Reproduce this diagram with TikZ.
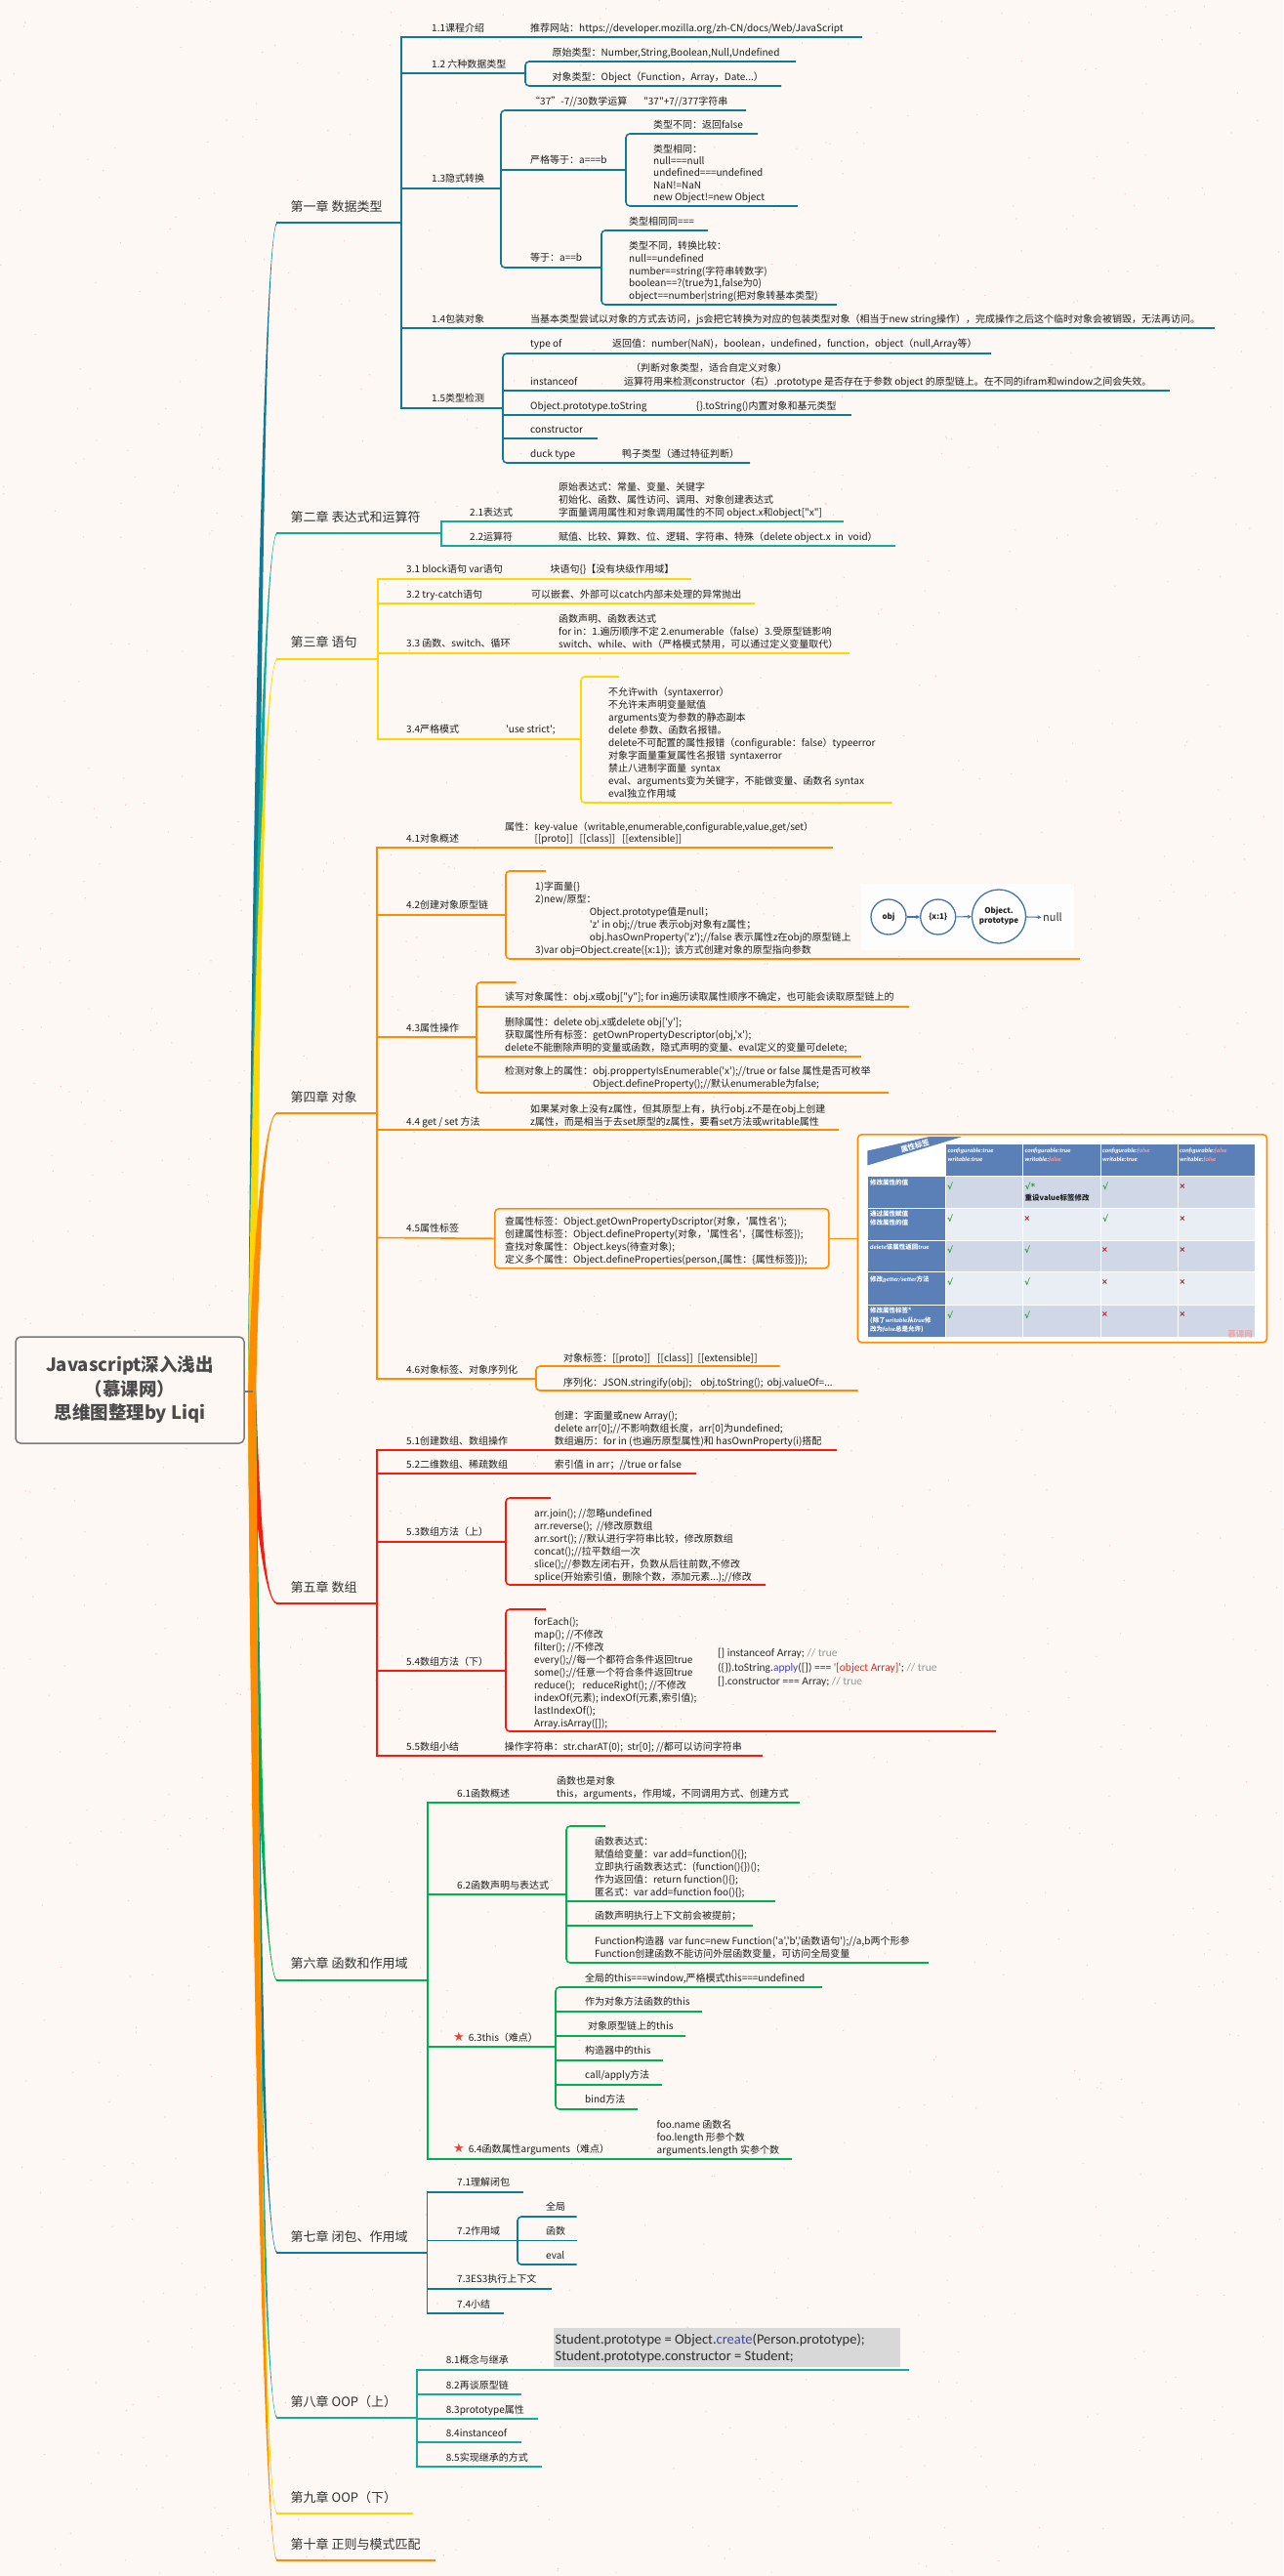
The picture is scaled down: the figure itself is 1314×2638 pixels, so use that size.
\documentclass[tikz,border=0pt]{standalone}
\usepackage{fontspec}
\setmainfont{Noto Sans CJK SC}[Ligatures=TeXOff]
\newfontfamily\calfont{Carlito}[Ligatures=TeXOff]
\newfontfamily\dvfont{DejaVu Sans}[Ligatures=TeXOff]
\usetikzlibrary{arrows.meta}

\definecolor{bg}{RGB}{253,248,243}
\definecolor{speck}{RGB}{243,210,198}
\definecolor{ink}{RGB}{30,30,30}
\definecolor{ink2}{RGB}{50,50,50}
\definecolor{cA}{RGB}{16,122,150}
\definecolor{cB}{RGB}{20,172,152}
\definecolor{cC}{RGB}{255,214,0}
\definecolor{cD}{RGB}{255,140,0}
\definecolor{cE}{RGB}{250,25,10}
\definecolor{cF}{RGB}{0,176,80}
\definecolor{rootgray}{RGB}{122,122,122}
\definecolor{roottext}{RGB}{75,75,75}
\definecolor{circblue}{RGB}{68,114,170}
\definecolor{tblue}{RGB}{91,128,184}
\definecolor{rowA}{RGB}{208,216,232}
\definecolor{rowB}{RGB}{233,237,244}
\definecolor{fpink}{RGB}{240,160,165}
\definecolor{ckgreen}{RGB}{40,160,50}
\definecolor{xred}{RGB}{160,30,30}
\definecolor{wmpink}{RGB}{236,170,170}
\definecolor{codegray}{RGB}{216,216,216}
\definecolor{codeink}{RGB}{45,45,45}
\definecolor{kwblue}{RGB}{70,70,170}
\definecolor{strred}{RGB}{200,50,40}
\definecolor{cmtgray}{RGB}{150,150,150}
\definecolor{starred}{RGB}{232,65,59}

\tikzset{
  lbl/.style={anchor=south west, inner sep=0pt, text depth=0pt, align=left,
    font=\fontsize{10}{13}\selectfont, text=ink},
  chap/.style={anchor=south west, inner sep=0pt, text depth=0pt,
    font=\fontsize{13}{15}\selectfont, text=ink2},
  br/.style={line width=1.6pt},
  sb/.style={line width=1.6pt, rounded corners=4pt},
  code/.style={anchor=south west, inner sep=0pt, text depth=0pt, align=left, text=codeink},
  circ/.style={circle, draw=circblue, line width=1.3pt, inner sep=0pt, fill=white,
    font=\bfseries\fontsize{8}{10}\selectfont, text=ink, align=center},
  darr/.style={draw=circblue, line width=1.1pt, -{Stealth[length=4pt,width=4pt]}},
  th/.style={anchor=south west, inner sep=0pt, text depth=0pt, align=left, text=white,
    font=\calfont\bfseries\itshape\fontsize{6.5}{9}\selectfont},
  tl/.style={anchor=south west, inner sep=0pt, text depth=0pt, align=left, text=white,
    font=\bfseries\fontsize{6.5}{9.2}\selectfont},
  ck/.style={inner sep=0pt, text=ckgreen, font=\dvfont\bfseries\fontsize{9}{9}\selectfont},
  cx/.style={inner sep=0pt, text=xred, font=\dvfont\bfseries\fontsize{8}{8}\selectfont},
  starmark/.style={inner sep=0pt, text=starred, font=\dvfont\fontsize{13}{13}\selectfont},
}

% horizontal branch line: colour, x1, x2, y
\newcommand\ul[4]{\draw[br,#1] (#2,#4) -- (#3,#4);}
% rounded sub-bar: colour, x, top y, bottom y, top line end, bottom line end
\newcommand\sbar[6]{\draw[sb,#1] (#5,#3) -- (#2,#3) -- (#2,#4) -- (#6,#4);}
% tapered trunk from the root to a chapter: colour, chapter y, +1 above / -1 below
\newcommand\trunk[3]{%
  \fill[#1] (254,1425) .. controls (258,{(1425+#2)/2}) and (270,{#2-(#3)*0.9})
    .. (284,{#2-(#3)*0.9}) -- (284,{#2+(#3)*0.9})
    .. controls (270,{#2+(#3)*0.9}) and (266,{(1425+#2)/2}) .. (262,1425) -- cycle;}

\begin{document}
\begin{tikzpicture}[x=1pt,y=-1pt]
\useasboundingbox (0,0) rectangle (1314,2638);
\fill[bg] (0,0) rectangle (1314,2638);

% paper texture
\pgfmathsetseed{4242}
\foreach \k in {1,...,1500}{\fill[speck] ({rnd*1314},{rnd*2638}) circle (0.75pt);}

% ---------------- trunks ----------------
\trunk{cA}{228}{1}
\trunk{cB}{546}{1}
\trunk{cC}{675}{1}
\trunk{cE}{1642}{-1}
\trunk{cF}{2028}{-1}
\trunk{cA}{2307}{-1}
\trunk{cB}{2476}{-1}
\trunk{cC}{2574}{-1}
\trunk{cD}{1140}{1}
\trunk{cD}{2622}{-1}

% ---------------- root ----------------
\draw[rootgray, line width=1.5pt] (250,1425) -- (259,1425);
\node[draw=rootgray, line width=1.5pt, rounded corners=5pt, fill=bg,
  minimum width=234pt, minimum height=109pt, inner sep=0pt, align=center,
  text=roottext, font=\bfseries\fontsize{18.5}{24.5}\selectfont] (root) at (133,1423.5)
  {Javascript深入浅出\\（慕课网）\\思维图整理by Liqi};

% ================= 第一章 =================
\node[chap] (c1) at (297.5,217) {第一章 数据类型};
\ul{cA}{283}{411}{228}
\draw[br,cA] (411,37.2) -- (411,418.8);

\node[lbl] (s11) at (442,32.8) {1.1课程介绍};
\node[lbl] (l11) at (543,32.8) {推荐网站：https://developer.mozilla.org/zh-CN/docs/Web/JavaScript};
\ul{cA}{411}{883}{38}

\node[lbl] (s12) at (442,69.8) {1.2 六种数据类型};
\ul{cA}{411}{538}{75}
\sbar{cA}{538}{63}{88}{815}{800}
\node[lbl] (l12a) at (565.5,57.8) {原始类型：Number,String,Boolean,Null,Undefined};
\node[lbl] (l12b) at (565.5,82.8) {对象类型：Object（Function，Array，Date...）};

\node[lbl] (s13) at (442,186.8) {1.3隐式转换};
\ul{cA}{411}{513}{193}
\sbar{cA}{513}{113}{274}{764}{616}
\node[lbl] (l13a) at (543,107.8) {“37”-7//30数学运算};
\node[lbl] (l13b) at (659,107.8) {"37"+7//377字符串};
\node[lbl] (l13c) at (543,167.8) {严格等于：a===b};
\ul{cA}{513}{641}{174}
\sbar{cA}{641}{137}{211}{776}{817}
\node[lbl] (l13c1) at (669,131.8) {类型不同：返回false};
\node[lbl,font=\fontsize{10}{12.2}\selectfont] (l13c2) at (669,205.5)
  {类型相同：\\null===null\\undefined===undefined\\NaN!=NaN\\new Object!=new Object};
\node[lbl] (l13d) at (543,267.8) {等于：a==b};
\sbar{cA}{616}{236}{312}{725}{857}
\node[lbl] (l13d1) at (644,230.8) {类型相同同===};
\node[lbl,font=\fontsize{10}{12.7}\selectfont] (l13d2) at (644,306.8)
  {类型不同，转换比较：\\null==undefined\\number==string(字符串转数字)\\boolean==?(true为1,false为0)\\object==number|string(把对象转基本类型)};

\node[lbl] (s14) at (442,330.8) {1.4包装对象};
\node[lbl] (l14) at (543,330.8) {当基本类型尝试以对象的方式去访问，js会把它转换为对应的包装类型对象（相当于new string操作），完成操作之后这个临时对象会被销毁，无法再访问。};
\ul{cA}{411}{1244}{336}

\node[lbl] (s15) at (442,411.8) {1.5类型检测};
\ul{cA}{411}{515}{418}
\sbar{cA}{515}{362}{474}{1015}{768}
\node[lbl] (l15a) at (543,355.8) {type of};
\node[lbl] (l15a2) at (627,355.8) {返回值：number(NaN)，boolean，undefined，function，object（null,Array等）};
\node[lbl] (l15b) at (543,394.8) {instanceof};
\node[lbl] (l15b2) at (646,380.8) {（判断对象类型，适合自定义对象）};
\node[lbl] (l15b3) at (639,394.8) {运算符用来检测constructor（右）.prototype 是否存在于参数 object 的原型链上。在不同的ifram和window之间会失效。};
\ul{cA}{515}{1198}{400}
\node[lbl] (l15c) at (543,419.8) {Object.prototype.toString};
\node[lbl] (l15c2) at (713,419.8) {\{\}.toString()内置对象和基元类型};
\ul{cA}{515}{872}{425}
\node[lbl] (l15d) at (543,443.8) {constructor};
\ul{cA}{515}{612}{449}
\node[lbl] (l15e) at (543,468.8) {duck type};
\node[lbl] (l15e2) at (637,468.8) {鸭子类型（通过特征判断）};

% ================= 第二章 =================
\node[chap] (c2) at (297.5,534.5) {第二章 表达式和运算符};
\ul{cB}{283}{452}{546}
\draw[br,cB] (452,533.2) -- (452,559.8);
\node[lbl] (s21) at (481,528.8) {2.1表达式};
\node[lbl] (l21) at (572,528.8) {原始表达式：常量、变量、关键字\\初始化、函数、属性访问、调用、对象创建表达式\\字面量调用属性和对象调用属性的不同 object.x和object["x"]};
\ul{cB}{452}{864}{534}
\node[lbl] (s22) at (481,553.8) {2.2运算符};
\node[lbl] (l22) at (572,553.8) {赋值、比较、算数、位、逻辑、字符串、特殊（delete object.x\ \ in\ \ void）};
\ul{cB}{452}{917}{559}

% ================= 第三章 =================
\node[chap] (c3) at (297.5,663) {第三章 语句};
\ul{cC}{283}{387}{675}
\draw[br,cC] (387,592.2) -- (387,757.8);
\node[lbl] (s31) at (416,586.8) {3.1 block语句 var语句};
\node[lbl] (l31) at (563.5,586.8) {块语句\{\}【没有块级作用域】};
\ul{cC}{387}{708}{593}
\node[lbl] (s32) at (416,612.8) {3.2 try-catch语句};
\node[lbl] (l32) at (544,612.8) {可以嵌套、外部可以catch内部未处理的异常抛出};
\ul{cC}{387}{772.5}{618}
\node[lbl] (s33) at (416,662.8) {3.3 函数、switch、循环};
\node[lbl] (l33) at (572,663.5) {函数声明、函数表达式\\for in：1.遍历顺序不定 2.enumerable（false）3.受原型链影响\\switch、while、with（严格模式禁用，可以通过定义变量取代）};
\ul{cC}{387}{869.5}{669}
\node[lbl] (s34) at (416,750.8) {3.4严格模式};
\node[lbl] (l34a) at (518,750.8) {'use strict';};
\ul{cC}{387}{595}{757}
\sbar{cC}{595}{693}{822}{634}{913.7}
\node[lbl] (l34b) at (623,816.3) {不允许with（syntaxerror）\\不允许未声明变量赋值\\arguments变为参数的静态副本\\delete 参数、函数名报错。\\delete不可配置的属性报错（configurable：false）typeerror\\对象字面量重复属性名报错\ \ syntaxerror\\禁止八进制字面量\ \ syntax\\eval、arguments变为关键字，不能做变量、函数名 syntax\\eval独立作用域};

% ================= 第四章 =================
\node[chap] (c4) at (297.5,1128.5) {第四章 对象};
\ul{cD}{283}{386}{1140}
\draw[br,cD] (386,867.2) -- (386,1412.8);

\node[lbl] (s41) at (416,862.8) {4.1对象概述};
\node[lbl] (l41a) at (517,850.8) {属性：key-value（writable,enumerable,configurable,value,get/set）};
\node[lbl] (l41b) at (547.5,862.8) {[[proto]]\hspace{7pt}[[class]]\hspace{7pt}[[extensible]]};
\ul{cD}{386}{853}{868}

\node[lbl] (s42) at (416,930.8) {4.2创建对象原型链};
\ul{cD}{386}{518}{937}
\sbar{cD}{518}{892}{982}{559}{1106}
\node[lbl] (l42) at (548,976.5) {1)字面量\{\}\\2)new/原型：\\\hspace*{55.6pt}Object.prototype值是null；\\\hspace*{55.6pt}'z' in obj;//true 表示obj对象有z属性；\\\hspace*{55.6pt}obj.hasOwnProperty('z');//false 表示属性z在obj的原型链上\\3)var obj=Object.create(\{x:1\});\ \ 该方式创建对象的原型指向参数};
\fill[white,opacity=0.85] (882,905) rectangle (1100,973);
\node[circ, minimum size=36pt] (cobj) at (910,939) {obj};
\node[circ, minimum size=36pt] (cx1) at (960.7,939) {\{x:1\}};
\node[circ, minimum size=55pt] (cop) at (1023,938.5) {Object.\\prototype};
\node[anchor=west, inner sep=0pt, text=ink2, font=\fontsize{11}{13}\selectfont] (cnull) at (1068,939.5) {null};
\draw[darr] (cobj) -- (cx1);
\draw[darr] (cx1) -- (cop);
\draw[darr, shorten >=1.5pt] (cop) -- (cnull);

\node[lbl] (s43) at (416,1056.8) {4.3属性操作};
\ul{cD}{386}{488}{1062}
\sbar{cD}{488}{1006}{1119}{528.6}{910}
\node[lbl] (l43a) at (517,1024.8) {读写对象属性：obj.x或obj["y"]; for in遍历读取属性顺序不确定，也可能会读取原型链上的};
\ul{cD}{488}{931}{1031}
\node[lbl] (l43b) at (517,1076.8) {删除属性：delete obj.x或delete obj['y'];\\获取属性所有标签：getOwnPropertyDescriptor(obj,'x');\\delete不能删除声明的变量或函数，隐式声明的变量、eval定义的变量可delete;};
\ul{cD}{488}{881.6}{1082}
\node[lbl] (l43c) at (517,1113.8) {检测对象上的属性：obj.proppertyIsEnumerable('x');//true or false 属性是否可枚举\\\hspace*{90pt}Object.defineProperty();//默认enumerable为false;};

\node[lbl] (s44) at (416,1152.8) {4.4 get / set 方法};
\node[lbl,font=\fontsize{10}{13.5}\selectfont] (l44) at (543,1152.8) {如果某对象上没有z属性，但其原型上有，执行obj.z不是在obj上创建\\z属性，而是相当于去set原型的z属性，要看set方法或writable属性};
\ul{cD}{386}{858.7}{1157}

\node[lbl] (s45) at (416,1261.8) {4.5属性标签};
\node[draw=cD, line width=1.6pt, rounded corners=4pt, minimum width=342pt, minimum height=61pt,
  anchor=north west, inner sep=0pt] (b45) at (506,1237) {};
\draw[br,cD] (386,1267.5) -- (b45.west);
\node[lbl] (l45) at (517,1293.8) {查属性标签：Object.getOwnPropertyDscriptor(对象，'属性名');\\创建属性标签：Object.defineProperty(对象，'属性名'，\{属性标签\});\\查找对象属性：Object.keys(待查对象);\\定义多个属性：Object.defineProperties(person,\{属性：\{属性标签\}\});};
\node[draw=cD, line width=1.6pt, rounded corners=4pt, fill=white, minimum width=419pt,
  minimum height=213pt, anchor=north west, inner sep=0pt] (tbox) at (877.7,1161) {};
\draw[br,cD] (b45.east) -- (tbox.west);

% property attribute table
\fill[tblue] (888.3,1193.5) -- (888.3,1178.5) -- (952,1164) -- (985.5,1164) -- cycle;
\node[rotate=17, inner sep=0pt, text=white, font=\bfseries\fontsize{7.5}{8}\selectfont] (tban) at (937,1173.5) {属性标签};
\fill[tblue] (968.7,1172) rectangle (1285,1204.8);
\fill[tblue] (889,1204.8) rectangle (968.7,1369);
\fill[rowA] (968.7,1204.8) rectangle (1285,1237.7);
\fill[rowB] (968.7,1237.7) rectangle (1285,1270);
\fill[rowA] (968.7,1270) rectangle (1285,1302.7);
\fill[rowB] (968.7,1302.7) rectangle (1285,1336);
\fill[rowA] (968.7,1336) rectangle (1285,1369);
\foreach \yy in {1204.8,1237.7,1270,1302.7,1336} \draw[white,line width=0.9pt] (889,\yy) -- (1285,\yy);
\foreach \xx in {968.7,1047.7,1127,1206} \draw[white,line width=0.9pt] (\xx,1172) -- (\xx,1369);

\node[th] (h1) at (970.5,1189.5) {configurable:true\\writable:true};
\node[th] (h2) at (1049.5,1189.5) {configurable:true\\writable:{\color{fpink}false}};
\node[th] (h3) at (1129,1189.5) {configurable:{\color{fpink}false}\\writable:true};
\node[th] (h4) at (1208,1189.5) {configurable:{\color{fpink}false}\\writable:{\color{fpink}false}};

\node[tl] (r1) at (891,1213.2) {修改属性的值};
\node[tl] (r2) at (891,1254.5) {通过属性赋值\\修改属性的值};
\node[tl] (r3) at (891,1279.2) {{\calfont\itshape delete}该属性返回{\calfont\itshape true}};
\node[tl] (r4) at (891,1312.5) {修改{\calfont\itshape getter/setter}方法};
\node[tl] (r5) at (891,1363.5) {修改属性标签*\\(除了{\calfont\itshape writable}从{\calfont\itshape true}修\\改为{\calfont\itshape false}总是允许)};

\node[ck] (m11) at (973,1215) {√};
\node[ck] (m12) at (1055,1215) {√*};
\node[anchor=south west, inner sep=0pt, text depth=0pt, text=ink, font=\bfseries\fontsize{7.5}{9}\selectfont] (m12b) at (1049.5,1229.7) {重设value标签修改};
\node[ck] (m13) at (1132,1215) {√};
\node[cx] (m14) at (1211,1215) {×};
\node[ck] (m21) at (973,1247.7) {√};
\node[cx] (m22) at (1052,1247.7) {×};
\node[ck] (m23) at (1132,1247.7) {√};
\node[cx] (m24) at (1211,1247.7) {×};
\node[ck] (m31) at (973,1280) {√};
\node[ck] (m32) at (1052,1280) {√};
\node[cx] (m33) at (1131.5,1280) {×};
\node[cx] (m34) at (1211,1280) {×};
\node[ck] (m41) at (973,1313) {√};
\node[ck] (m42) at (1052,1313) {√};
\node[cx] (m43) at (1131.5,1313) {×};
\node[cx] (m44) at (1211,1313) {×};
\node[ck] (m51) at (973,1346.5) {√};
\node[ck] (m52) at (1052,1346.5) {√};
\node[cx] (m53) at (1131.5,1346.5) {×};
\node[cx] (m54) at (1211,1346.5) {×};
\node[inner sep=0pt, text=wmpink, font=\bfseries\fontsize{8.5}{9}\selectfont] (wm) at (1270,1366) {慕课网};

\node[lbl] (s46) at (416,1406.8) {4.6对象标签、对象序列化};
\ul{cD}{386}{549}{1412}
\sbar{cD}{549}{1399}{1424}{798.5}{878.5}
\node[lbl] (l46a) at (577,1394.8) {对象标签：[[proto]]\hspace{7pt}[[class]]\hspace{5pt}[[extensible]]};
\node[lbl] (l46b) at (577,1419.8) {序列化：JSON.stringify(obj);\hspace{9pt}obj.toString();\hspace{4pt}obj.valueOf=...};

% ================= 第五章 =================
\node[chap] (c5) at (297.5,1631) {第五章 数组};
\ul{cE}{283}{386}{1642}
\draw[br,cE] (386,1484.2) -- (386,1798.8);
\node[lbl] (s51) at (416,1479.8) {5.1创建数组、数组操作};
\node[lbl] (l51) at (567.6,1479.8) {创建：字面量或new Array();\\delete arr[0];//不影响数组长度，arr[0]为undefined;\\数组遍历：for in (也遍历原型属性)和 hasOwnProperty(i)搭配};
\ul{cE}{386}{857}{1485}
\node[lbl] (s52) at (416,1503.8) {5.2二维数组、稀疏数组};
\node[lbl] (l52) at (567.6,1503.8) {索引值 in arr；//true or false};
\ul{cE}{386}{713}{1509}
\node[lbl] (s53) at (416,1572.8) {5.3数组方法（上）};
\ul{cE}{386}{518}{1579}
\sbar{cE}{518}{1534}{1623}{564}{784}
\node[lbl] (l53) at (547,1618.8) {arr.join(); //忽略undefined\\arr.reverse();\ \ //修改原数组\\arr.sort(); //默认进行字符串比较，修改原数组\\concat();//拉平数组一次\\slice();//参数左闭右开，负数从后往前数,不修改\\splice(开始索引值，删除个数，添加元素...);//修改};
\node[lbl] (s54) at (416,1705.8) {5.4数组方法（下）};
\ul{cE}{386}{518}{1711}
\sbar{cE}{518}{1648}{1773}{559}{1020}
\node[lbl] (l54) at (547,1769) {forEach();\\map(); //不修改\\filter(); //不修改\\every();//每一个都符合条件返回true\\some();//任意一个符合条件返回true\\reduce();\hspace{8pt}reduceRight(); //不修改\\indexOf(元素); indexOf(元素,索引值);\\lastIndexOf();\\Array.isArray([]);};
\node[code, font=\calfont\fontsize{11.5}{14.5}\selectfont] (k54) at (735,1725.7)
  {{}[] instanceof Array; {\color{cmtgray}// true}\\(\{\}).toString.{\color{kwblue}apply}([]) === {\color{strred}'[object Array]'}; {\color{cmtgray}// true}\\{}[].constructor === Array; {\color{cmtgray}// true}};
\node[lbl] (s55) at (416,1792.8) {5.5数组小结};
\node[lbl] (l55) at (516.7,1792.8) {操作字符串：str.charAT(0);\ \ str[0]; //都可以访问字符串};
\ul{cE}{386}{780.7}{1798}

% ================= 第六章 =================
\node[chap] (c6) at (297.5,2016) {第六章 函数和作用域};
\ul{cF}{283}{438}{2028}
\draw[br,cF] (438,1845.2) -- (438,2211.8);
\node[lbl] (s61) at (468,1840.8) {6.1函数概述};
\node[lbl] (l61) at (570,1840.8) {函数也是对象\\this，arguments，作用域，不同调用方式、创建方式};
\ul{cF}{438}{819}{1846}
\node[lbl] (s62) at (468,1934.8) {6.2函数声明与表达式};
\ul{cF}{438}{580}{1940}
\sbar{cF}{580}{1870}{2010}{620}{951}
\node[lbl] (l62a) at (609,1941.8) {函数表达式：\\赋值给变量：var add=function()\{\};\\立即执行函数表达式：(function()\{\})();\\作为返回值：return function()\{\};\\匿名式：var add=function foo()\{\};};
\ul{cF}{580}{794}{1947}
\node[lbl] (l62b) at (609,1965.8) {函数声明执行上下文前会被提前；};
\ul{cF}{580}{770.6}{1972}
\node[lbl] (l62c) at (609,2004.8) {Function构造器\ \ var func=new Function('a','b','函数语句');//a,b两个形参\\Function创建函数不能访问外层函数变量，可访问全局变量};
\node[starmark] (st63) at (470,2086) {★};
\node[lbl] (s63) at (479.6,2090.8) {6.3this（难点）};
\ul{cF}{438}{569}{2096}
\sbar{cF}{569}{2035}{2160}{842}{653}
\node[lbl] (l63a) at (599,2029.8) {全局的this===window,严格模式this===undefined};
\node[lbl] (l63b) at (599,2053.8) {作为对象方法函数的this};
\ul{cF}{569}{719}{2060}
\node[lbl] (l63c) at (602,2078.8) {对象原型链上的this};
\ul{cF}{569}{701.7}{2085}
\node[lbl] (l63d) at (599,2103.8) {构造器中的this};
\ul{cF}{569}{678.8}{2110}
\node[lbl] (l63e) at (599,2128.8) {call/apply方法};
\ul{cF}{569}{678}{2135}
\node[lbl] (l63f) at (599,2153.8) {bind方法};
\node[starmark] (st64) at (470,2200) {★};
\node[lbl] (s64) at (479.6,2204.8) {6.4函数属性arguments（难点）};
\node[lbl] (l64) at (672.5,2205.8) {foo.name 函数名\\foo.length 形参个数\\arguments.length 实参个数};
\ul{cF}{438}{811}{2211}

% ================= 第七章 =================
\node[chap] (c7) at (297.5,2295.5) {第七章 闭包、作用域};
\ul{cA}{283}{437.5}{2307}
\draw[br,cA] (437.5,2244.2) -- (437.5,2369.8);
\node[lbl] (s71) at (468,2238.8) {7.1理解闭包};
\ul{cA}{437.5}{535.7}{2245}
\node[lbl] (s72) at (468,2288.8) {7.2作用域};
\ul{cA}{437.5}{590.6}{2294.5}
\sbar{cA}{530}{2270}{2319}{590.6}{590.6}
\node[lbl] (l72a) at (559,2263.8) {全局};
\node[lbl] (l72b) at (559,2288.8) {函数};
\node[lbl] (l72c) at (559,2313.8) {eval};
\node[lbl] (s73) at (468,2337.8) {7.3ES3执行上下文};
\ul{cA}{437.5}{564.7}{2344}
\node[lbl] (s74) at (468,2363.8) {7.4小结};
\ul{cA}{437.5}{515.6}{2369}

% ================= 第八章 =================
\node[chap] (c8) at (297.5,2464.5) {第八章 OOP（上）};
\ul{cB}{283}{427}{2476}
\draw[br,cB] (427,2426.2) -- (427,2526.8);
\node[lbl] (s81) at (456.7,2420.8) {8.1概念与继承};
\node[fill=codegray, minimum width=355pt, minimum height=40pt, anchor=north west, inner sep=0pt] (cb81) at (567,2384) {};
\node[code, font=\calfont\fontsize{14.5}{17}\selectfont] (k81) at (568.5,2417.6)
  {Student.prototype = Object.{\color{kwblue}create}(Person.prototype);\\Student.prototype.constructor = Student;};
\ul{cB}{427}{931}{2427}
\node[lbl] (s82) at (456.7,2446.8) {8.2再谈原型链};
\ul{cB}{427}{534}{2452}
\node[lbl] (s83) at (456.7,2471.8) {8.3prototype属性};
\ul{cB}{427}{551}{2477}
\node[lbl] (s84) at (456.7,2495.8) {8.4instanceof};
\ul{cB}{427}{534}{2501}
\node[lbl] (s85) at (456.7,2520.8) {8.5实现继承的方式};
\ul{cB}{427}{554.5}{2526}

% ================= 第九章 / 第十章 =================
\node[chap] (c9) at (297.5,2562.5) {第九章 OOP（下）};
\ul{cC}{283}{423}{2574}
\node[chap] (c10) at (297.5,2611) {第十章 正则与模式匹配};
\ul{cD}{283}{446}{2622}

\end{tikzpicture}
\end{document}
